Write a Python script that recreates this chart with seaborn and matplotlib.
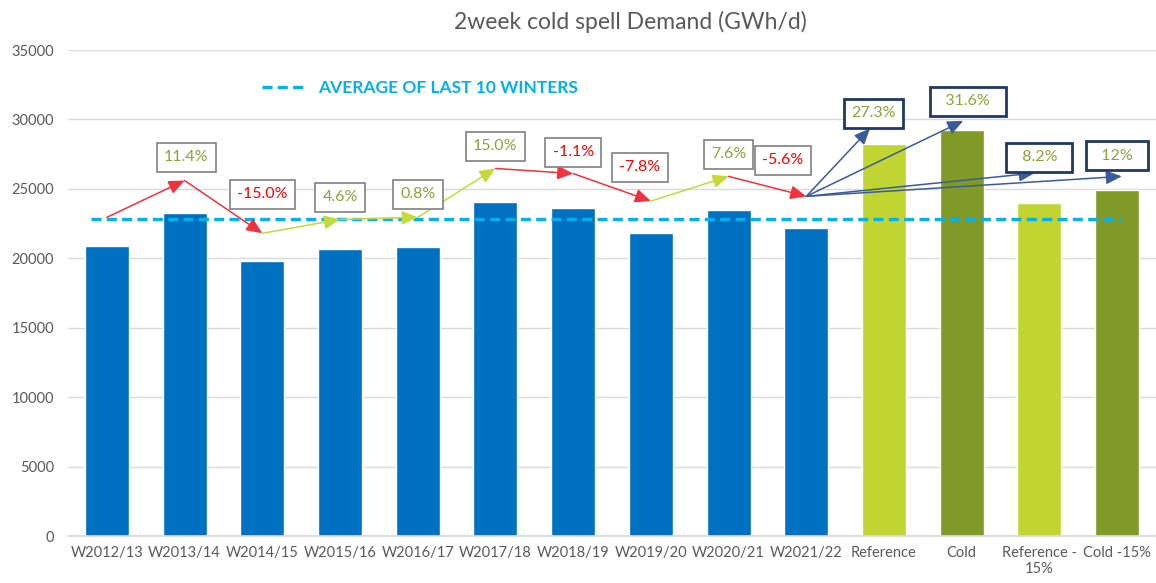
import matplotlib
matplotlib.use("Agg")
import matplotlib.pyplot as plt
import seaborn as sns
import pandas as pd

# ---------------- data ----------------
categories = ["W2012/13", "W2013/14", "W2014/15", "W2015/16", "W2016/17",
              "W2017/18", "W2018/19", "W2019/20", "W2020/21", "W2021/22",
              "Reference", "Cold", "Reference -\n15%", "Cold -15%"]
demand = [20900, 23250, 19800, 20650, 20800, 24050, 23650, 21850, 23500, 22200,
          28250, 29250, 24000, 24900]
bar_colors = ["#0070C0"] * 10 + ["#C0D531", "#7F9A26", "#C0D531", "#7F9A26"]

avg_last10 = 22800
avg_label = "AVERAGE OF LAST 10 WINTERS"

trend_values = [22950, 25600, 21800, 22800, 22950, 26470, 26100, 24120, 25900, 24460]
trend_seg_colors = ["#F0323C", "#F0323C", "#C5D93A", "#C5D93A", "#C5D93A",
                    "#F0323C", "#F0323C", "#C5D93A", "#F0323C"]
change_labels = ["11.4%", "-15.0%", "4.6%", "0.8%", "15.0%", "-1.1%", "-7.8%", "7.6%", "-5.6%"]
change_label_x = [1.02, 2.0, 3.0, 4.0, 5.0, 6.0, 6.86, 8.0, 8.7]
change_label_y = [27270, 24600, 24390, 24600, 28060, 27630, 26550, 27480, 27050]

scenario_labels = ["27.3%", "31.6%", "8.2%", "12%"]
scenario_target_x = [9.82, 11.02, 11.94, 13.06]
scenario_target_y = [29350, 29900, 26140, 25900]
scenario_label_x = [9.86, 11.08, 12.0, 13.0]
scenario_label_y = [30430, 31300, 27270, 27400]
scenario_label_spaces = [0, 2, 2, 2]

title = "2week cold spell Demand (GWh/d)"
yticks = [0, 5000, 10000, 15000, 20000, 25000, 30000, 35000]

# ---------------- style ----------------
sns.set_theme(style="white")
plt.rcParams["font.family"] = ["Lato", "DejaVu Sans"]

GREY_TXT = "#595959"
GREEN_TXT = "#8EA13A"
RED_TXT = "#FF0000"
NAVY = "#1F3864"
BLUE_ARROW = "#3B5B98"
AVG_BLUE = "#00B0F0"

fig = plt.figure(figsize=(11.56, 5.83), dpi=100)
ax = fig.add_axes([68 / 1156, 47 / 583, 1 - 68 / 1156, 486 / 583])

df = pd.DataFrame({"cat": categories, "val": demand})
sns.barplot(data=df, x="cat", y="val", hue="cat", palette=bar_colors,
            legend=False, width=0.566, saturation=1, ax=ax, zorder=2)

ax.set_ylim(0, 35000)
ax.set_xlim(-0.5, len(categories) - 0.5)
ax.set_yticks(yticks)
ax.set_yticklabels([str(v) for v in yticks])
ax.yaxis.grid(True, color="#D9D9D9", lw=1, zorder=0)
ax.set_axisbelow(True)
for s in ["top", "right", "left"]:
    ax.spines[s].set_visible(False)
ax.spines["bottom"].set_color("#D9D9D9")
ax.tick_params(axis="both", length=0, colors=GREY_TXT, labelsize=10.5)
ax.tick_params(axis="y", pad=10)
ax.tick_params(axis="x", pad=7)
ax.set_xlabel("")
ax.set_ylabel("")

# average line
avg_line, = ax.plot([-0.2, len(categories) - 0.95], [avg_last10, avg_last10],
                    color=AVG_BLUE, lw=2.4, dashes=(3.0, 1.6), zorder=3,
                    label=avg_label)

leg = fig.legend(handles=[avg_line], loc="center left",
                 bbox_to_anchor=(262 / 1156, 1 - 88 / 583), frameon=False,
                 handlelength=2.5, handletextpad=0.75, borderpad=0, borderaxespad=0,
                 prop={"weight": "bold", "size": 12.5})
for t in leg.get_texts():
    t.set_color(AVG_BLUE)

# trend arrows
for i in range(1, len(trend_values)):
    ax.annotate("", xy=(i, trend_values[i]), xytext=(i - 1, trend_values[i - 1]),
                arrowprops=dict(arrowstyle="-|>,head_length=0.8,head_width=0.35",
                                color=trend_seg_colors[i - 1], lw=1.1,
                                shrinkA=0, shrinkB=0), zorder=4)

for lab, x, y in zip(change_labels, change_label_x, change_label_y):
    ax.text(x, y, lab, ha="center", va="center", fontsize=11.5,
            color=RED_TXT if lab.startswith("-") else GREEN_TXT, zorder=5,
            bbox=dict(boxstyle="square,pad=0.45", fc="white", ec="#808080", lw=1.2))

# scenario arrows
origin = (len(trend_values) - 1, trend_values[-1])
for lab, tx, ty, lx, ly, sp in zip(scenario_labels, scenario_target_x, scenario_target_y,
                                   scenario_label_x, scenario_label_y,
                                   scenario_label_spaces):
    ax.annotate("", xy=(tx, ty), xytext=origin,
                arrowprops=dict(arrowstyle="-|>,head_length=0.8,head_width=0.35",
                                color=BLUE_ARROW, lw=1.1, shrinkA=0, shrinkB=0),
                zorder=4)
    pad = " " * sp
    ax.text(lx, ly, pad + lab + pad, ha="center", va="center", fontsize=11.5,
            color=GREEN_TXT, zorder=5,
            bbox=dict(boxstyle="square,pad=0.45", fc="white", ec=NAVY, lw=2))

fig.text(630 / 1156, 1 - 22 / 583, title, ha="center", va="center",
         fontsize=16.5, color=GREY_TXT)

fig.savefig("out.png", dpi=100)
